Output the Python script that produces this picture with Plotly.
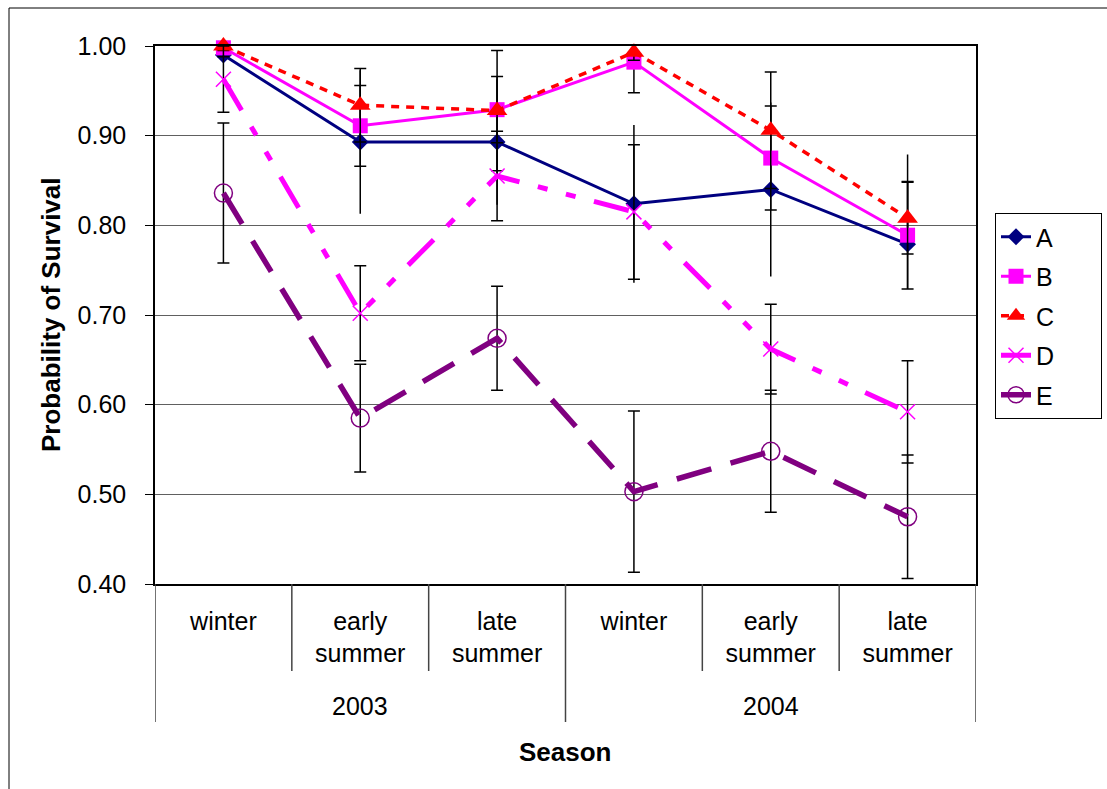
import plotly.graph_objects as go

# Categories: season within year
seasons = ["winter", "early<br>summer", "late<br>summer",
           "winter", "early<br>summer", "late<br>summer"]
years = ["2003", "2004"]
year_of_season = [0, 0, 0, 1, 1, 1]
x_pos = list(range(len(seasons)))

# Survival estimates per group
surv_a = [0.990, 0.893, 0.893, 0.824, 0.840, 0.779]
surv_b = [0.998, 0.911, 0.929, 0.982, 0.875, 0.789]
surv_c = [1.000, 0.934, 0.928, 0.993, 0.906, 0.808]
surv_d = [0.963, 0.702, 0.855, 0.815, 0.662, 0.592]
surv_e = [0.836, 0.585, 0.674, 0.503, 0.548, 0.475]

# Error bar half-widths (A has unequal upper/lower values)
err_a_up = [0.008, 0.080, 0.070, 0.088, 0.097, 0.100]
err_a_dn = [0.008, 0.080, 0.070, 0.088, 0.097, 0.050]
err_b = [0.010, 0.045, 0.037, 0.034, 0.058, 0.060]
err_c = [0.005, 0.041, 0.067, 0.009, 0.065, 0.040]
err_d = [0.037, 0.053, 0.050, 0.075, 0.050, 0.057]
err_e = [0.078, 0.060, 0.058, 0.090, 0.068, 0.069]

FONT = "Liberation Sans, Arial, sans-serif"

series = [
    dict(name="A", y=surv_a, up=err_a_up, dn=err_a_dn, cap=0,
         line=dict(color="#000080", width=3),
         marker=dict(symbol="diamond", size=13, color="#000080")),
    dict(name="B", y=surv_b, up=err_b, dn=err_b, cap=6,
         line=dict(color="#FF00FF", width=3),
         marker=dict(symbol="square", size=15, color="#FF00FF")),
    dict(name="C", y=surv_c, up=err_c, dn=err_c, cap=6,
         line=dict(color="#FF0000", width=3.5, dash="8px,7px"),
         marker=dict(symbol="triangle-up", size=18, color="#FF0000")),
    dict(name="D", y=surv_d, up=err_d, dn=err_d, cap=6,
         line=dict(color="#FF00FF", width=5,
                   dash="36px,19px,10px,19px,10px,19px"),
         marker=dict(symbol="x-thin-open", size=15,
                     line=dict(color="#FF00FF", width=1.5))),
    dict(name="E", y=surv_e, up=err_e, dn=err_e, cap=6,
         line=dict(color="#800080", width=5.5, dash="36px,20px"),
         marker=dict(symbol="circle-open", size=18,
                     line=dict(color="#800080", width=1.5))),
]

# widen legend entries so the legend box reaches the right edge
PAD = "\u00a0" * 6

fig = go.Figure()
for s in series:
    fig.add_trace(go.Scatter(
        x=x_pos, y=s["y"], name=s["name"] + PAD, legendgroup=s["name"],
        mode="lines+markers", line=s["line"], marker=s["marker"],
        cliponaxis=False,
        error_y=dict(type="data", symmetric=False, array=s["up"],
                     arrayminus=s["dn"], color="black", thickness=1.5,
                     width=s["cap"]),
    ))

W, H = 1107, 789
ML, MR, MT, MB = 155, 131, 46, 205
PW, PH = W - ML - MR, H - MT - MB


def px_x(px):
    return (px - ML) / PW


def px_y(py):
    return (H - MB - py) / PH


shapes = []
# category / year dividers below the axis
for i in range(len(seasons) + 1):
    long_line = i % 3 == 0
    shapes.append(dict(type="line", xref="x", yref="paper",
                       x0=i - 0.5, x1=i - 0.5, y0=0,
                       y1=px_y(722 if long_line else 671),
                       line=dict(color="#444444", width=1.5)))
# chart frame
shapes.append(dict(type="rect", xref="paper", yref="paper",
                   x0=px_x(9), x1=px_x(1130), y0=px_y(820), y1=px_y(8),
                   line=dict(color="black", width=1), layer="below"))

annotations = []
for k, yr in enumerate(years):
    idx = [i for i, g in enumerate(year_of_season) if g == k]
    annotations.append(dict(text=yr, xref="x", yref="paper",
                            x=sum(idx) / len(idx), y=px_y(706),
                            showarrow=False, yanchor="middle",
                            font=dict(size=25)))
annotations.append(dict(text="<b>Season</b>", xref="paper", yref="paper",
                        x=px_x(565), y=px_y(752), showarrow=False,
                        yanchor="middle", font=dict(size=26)))
annotations.append(dict(text="<b>Probability of Survival</b>", xref="paper",
                        yref="paper", x=px_x(51), y=0.5, textangle=-90,
                        showarrow=False, xanchor="center", yanchor="middle",
                        font=dict(size=26)))

fig.update_layout(
    width=W, height=H,
    margin=dict(l=ML, r=MR, t=MT, b=MB, autoexpand=False),
    paper_bgcolor="white", plot_bgcolor="white",
    font=dict(family=FONT, size=25, color="black"),
    showlegend=True,
    legend=dict(x=px_x(995), xanchor="left", y=px_y(213), yanchor="top",
                bordercolor="black", borderwidth=1, bgcolor="white",
                font=dict(size=25), tracegroupgap=4, traceorder="grouped"),
    shapes=shapes, annotations=annotations,
    xaxis=dict(range=[-0.5, len(seasons) - 0.5], tickvals=x_pos,
               ticktext=seasons, ticks="", showgrid=False, zeroline=False,
               showline=True, linecolor="black", linewidth=1.5, mirror=True,
               ticklabelstandoff=14),
    yaxis=dict(range=[0.4, 1.0], dtick=0.1, tick0=0.4, tickformat=".2f",
               ticks="outside", ticklen=8, tickcolor="black",
               showgrid=True, gridcolor="#606060", gridwidth=1,
               zeroline=False, showline=True, linecolor="black",
               linewidth=1.5, mirror=True, ticklabelstandoff=14),
)

fig.write_html("out.html")
